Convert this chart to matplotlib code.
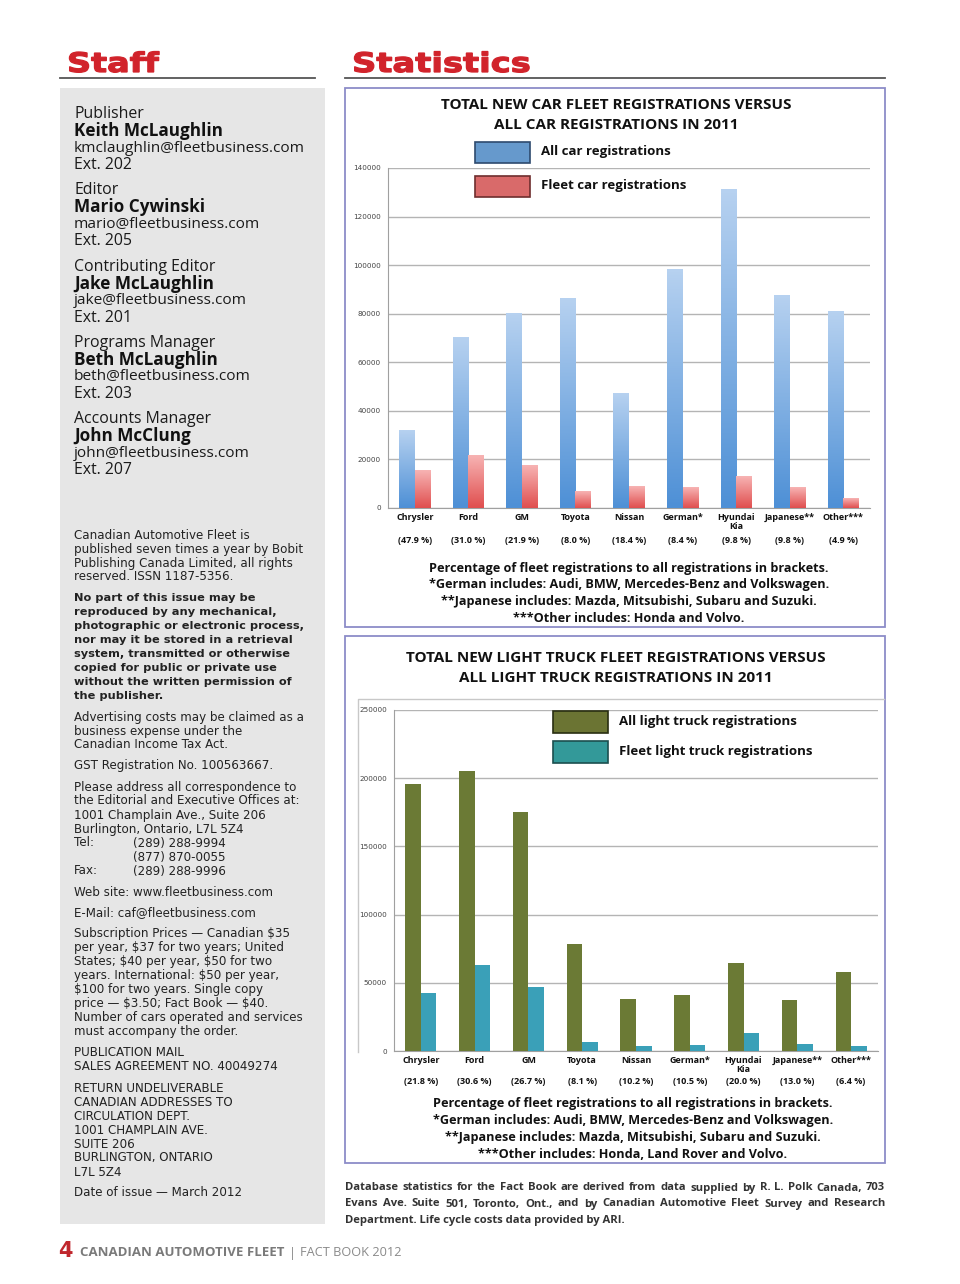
import matplotlib
matplotlib.use('Agg')
import matplotlib.pyplot as plt
import numpy as np
from matplotlib.patches import Rectangle, PathPatch
from matplotlib.lines import Line2D
from matplotlib.colors import LinearSegmentedColormap
from matplotlib.textpath import TextPath
from matplotlib.font_manager import FontProperties
from matplotlib.transforms import Affine2D

W, H = 960, 1284

makes = ['Chrysler', 'Ford', 'GM', 'Toyota', 'Nissan', 'German*', 'Hyundai\nKia', 'Japanese**', 'Other***']

car_all = [32000, 70300, 80200, 86400, 47200, 98400, 131000, 87400, 81100]
car_fleet = [15300, 21800, 17500, 6900, 8700, 8300, 12800, 8600, 4000]
car_pct = ['(47.9 %)', '(31.0 %)', '(21.9 %)', '(8.0 %)', '(18.4 %)', '(8.4 %)', '(9.8 %)', '(9.8 %)', '(4.9 %)']
car_ticks = [0, 20000, 40000, 60000, 80000, 100000, 120000, 140000]

truck_all = [195500, 205500, 175000, 78700, 37800, 41200, 64300, 37200, 57600]
truck_fleet = [42600, 62900, 46700, 6400, 3900, 4300, 12900, 4800, 3700]
truck_pct = ['(21.8 %)', '(30.6 %)', '(26.7 %)', '(8.1 %)', '(10.2 %)', '(10.5 %)', '(20.0 %)', '(13.0 %)', '(6.4 %)']
truck_ticks = [0, 50000, 100000, 150000, 200000, 250000]

car_title = ['TOTAL NEW CAR FLEET REGISTRATIONS VERSUS', 'ALL CAR REGISTRATIONS IN 2011']
truck_title = ['TOTAL NEW LIGHT TRUCK FLEET REGISTRATIONS VERSUS', 'ALL LIGHT TRUCK REGISTRATIONS IN 2011']
car_legend = ['All car registrations', 'Fleet car registrations']
truck_legend = ['All light truck registrations', 'Fleet light truck registrations']
car_notes = ['Percentage of fleet registrations to all registrations in brackets.',
             '*German includes: Audi, BMW, Mercedes-Benz and Volkswagen.',
             '**Japanese includes: Mazda, Mitsubishi, Subaru and Suzuki.',
             '***Other includes: Honda and Volvo.']
truck_notes = ['Percentage of fleet registrations to all registrations in brackets.',
               '*German includes: Audi, BMW, Mercedes-Benz and Volkswagen.',
               '**Japanese includes: Mazda, Mitsubishi, Subaru and Suzuki.',
               '***Other includes: Honda, Land Rover and Volvo.']

staff = [('Publisher', 'Keith McLaughlin', 'kmclaughlin@fleetbusiness.com', 'Ext. 202'),
         ('Editor', 'Mario Cywinski', 'mario@fleetbusiness.com', 'Ext. 205'),
         ('Contributing Editor', 'Jake McLaughlin', 'jake@fleetbusiness.com', 'Ext. 201'),
         ('Programs Manager', 'Beth McLaughlin', 'beth@fleetbusiness.com', 'Ext. 203'),
         ('Accounts Manager', 'John McClung', 'john@fleetbusiness.com', 'Ext. 207')]

info = [
    (False, ['Canadian Automotive Fleet is', 'published seven times a year by Bobit',
             'Publishing Canada Limited, all rights', 'reserved. ISSN 1187-5356.']),
    (True, ['No part of this issue may be', 'reproduced by any mechanical,',
            'photographic or electronic process,', 'nor may it be stored in a retrieval',
            'system, transmitted or otherwise', 'copied for public or private use',
            'without the written permission of', 'the publisher.']),
    (False, ['Advertising costs may be claimed as a', 'business expense under the',
             'Canadian Income Tax Act.']),
    (False, ['GST Registration No. 100563667.']),
    (False, ['Please address all correspondence to', 'the Editorial and Executive Offices at:',
             '1001 Champlain Ave., Suite 206', 'Burlington, Ontario, L7L 5Z4',
             'Tel:\t(289) 288-9994', '\t(877) 870-0055', 'Fax:\t(289) 288-9996']),
    (False, ['Web site: www.fleetbusiness.com']),
    (False, ['E-Mail: caf@fleetbusiness.com']),
    (False, ['Subscription Prices \u2014 Canadian $35', 'per year, $37 for two years; United',
             'States; $40 per year, $50 for two', 'years. International: $50 per year,',
             '$100 for two years. Single copy', 'price \u2014 $3.50; Fact Book \u2014 $40.',
             'Number of cars operated and services', 'must accompany the order.']),
    (False, ['PUBLICATION MAIL', 'SALES AGREEMENT NO. 40049274']),
    (False, ['RETURN UNDELIVERABLE', 'CANADIAN ADDRESSES TO', 'CIRCULATION DEPT.',
             '1001 CHAMPLAIN AVE.', 'SUITE 206', 'BURLINGTON, ONTARIO', 'L7L 5Z4']),
    (False, ['Date of issue \u2014 March 2012']),
]

source = ['Database statistics for the Fact Book are derived from data supplied by R. L. Polk Canada, 703',
          'Evans Ave. Suite 501, Toronto, Ont., and by Canadian Automotive Fleet Survey and Research',
          'Department. Life cycle costs data provided by ARI.']

CHART_FONT = 'Open Sans'
RED = '#d1232b'


def fx(x):
    return x / W


def fy(y):
    return 1 - y / H


def box(x0, y0, x1, y1):
    return [x0 / W, 1 - y1 / H, (x1 - x0) / W, (y1 - y0) / H]


def frame(fig, x0, y0, x1, y1, **kw):
    fig.add_artist(Rectangle((fx(x0), fy(y1)), (x1 - x0) / W, (y1 - y0) / H,
                             transform=fig.transFigure, **kw))


def hline(fig, x0, x1, y, color, lw):
    fig.add_artist(Line2D([fx(x0), fx(x1)], [fy(y), fy(y)], color=color, lw=lw,
                          transform=fig.transFigure))


def wide_heading(fig, s, x, y_base, size_px, stretch):
    # heavy extended display face, faked by stretching a bold outline
    tp = TextPath((0, 0), s, size=size_px, prop=FontProperties(family='DejaVu Sans', weight='bold'))
    tr = Affine2D().scale(stretch, 1).translate(x, H - y_base)
    fig.add_artist(PathPatch(tp, transform=tr, facecolor=RED, edgecolor=RED, lw=0.9))


def gradient_bars(ax, bars, top, bottom):
    cmap = LinearSegmentedColormap.from_list('g', [bottom, top])
    grad = np.linspace(0, 1, 64).reshape(-1, 1)
    for b in bars:
        x, w, h = b.get_x(), b.get_width(), b.get_height()
        ax.imshow(grad, extent=[x, x + w, 0, h], origin='lower', cmap=cmap,
                  aspect='auto', zorder=3, interpolation='bilinear')
        b.set_visible(False)


def bar_chart(fig, rect, all_v, fleet_v, pct, ticks, name_y, pct_y, colors, grad):
    ax = fig.add_axes(rect)
    x = np.arange(len(makes))
    w = 0.29
    b1 = ax.bar(x - w / 2, all_v, w, color=colors[0], zorder=3)
    b2 = ax.bar(x + w / 2, fleet_v, w, color=colors[1], zorder=3)
    if grad:
        gradient_bars(ax, b1, '#b6d1f0', '#4e90d6')
        gradient_bars(ax, b2, '#f7b3b3', '#e04f4f')
    ax.set_xlim(-0.5, len(makes) - 0.5)
    ax.set_ylim(0, ticks[-1])
    ax.set_yticks(ticks)
    ax.set_yticklabels([str(t) for t in ticks], fontsize=5.2, color='#444')
    ax.tick_params(axis='y', length=0, pad=5)
    ax.set_xticks([])
    ax.grid(axis='y', color='#b4b4b4', lw=1, zorder=0)
    for s in ['top', 'right']:
        ax.spines[s].set_visible(False)
    ax.spines['left'].set_color('#a0a0a0')
    ax.spines['bottom'].set_color('#a0a0a0')
    ax.set_facecolor('white')
    for i, m in enumerate(makes):
        ax.text(i, name_y, m, transform=ax.get_xaxis_transform(), ha='center', va='top',
                fontsize=6.5, fontweight='bold', family=CHART_FONT, color='#111', linespacing=1.05)
        ax.text(i, pct_y, pct[i], transform=ax.get_xaxis_transform(), ha='center', va='center',
                fontsize=6.5, fontweight='bold', family=CHART_FONT, color='#111')
    return ax


def justify(fig, renderer, line, x0, x1, y, **kw):
    words = line.split()
    texts = [fig.text(0, fy(y), wd, va='center', **kw) for wd in words]
    widths = [t.get_window_extent(renderer).width for t in texts]
    gap = (x1 - x0 - sum(widths)) / (len(words) - 1)
    x = x0
    for t, wd in zip(texts, widths):
        t.set_x(fx(x))
        x += wd + gap


def main():
    fig = plt.figure(figsize=(W / 100, H / 100), dpi=100)
    fig.patch.set_facecolor('white')

    # headings
    wide_heading(fig, 'Staff', 67, 72, 27, 1.24)
    wide_heading(fig, 'Statistics', 352, 72, 27, 1.25)
    hline(fig, 60, 315, 78, '#555555', 1.3)
    hline(fig, 345, 885, 78, '#555555', 1.3)

    # left panel
    frame(fig, 60, 88, 325, 1224, facecolor='#e6e6e6', edgecolor='none', zorder=0)
    for i, (role, name, mail, ext) in enumerate(staff):
        y = 114 + 76.3 * i
        fig.text(fx(74), fy(y), role, fontsize=11.4, family='Open Sans', color='#1a1a1a', va='center')
        fig.text(fx(74), fy(y + 17), name, fontsize=12.3, family='Open Sans', fontweight='bold',
                 color='#111', va='center')
        fig.text(fx(74), fy(y + 34), mail, fontsize=11.1, family='Open Sans', color='#1a1a1a', va='center')
        fig.text(fx(74), fy(y + 51), ext, fontsize=11.4, family='Open Sans', color='#1a1a1a', va='center')

    y = 535
    for bold, lines in info:
        for ln in lines:
            parts = ln.split('\t')
            kw = dict(fontsize=8.2 if bold else 8.6, family='DejaVu Sans', color='#222',
                      va='center', fontweight='bold' if bold else 'normal', parse_math=False)
            if parts[0]:
                fig.text(fx(74), fy(y), parts[0], **kw)
            if len(parts) > 1:
                fig.text(fx(133), fy(y), parts[1], **kw)
            y += 14
        y += 7

    # chart boxes
    frame(fig, 345, 88, 885, 627, facecolor='none', edgecolor='#8c8cc8', lw=1.3)
    frame(fig, 345, 636, 885, 1163, facecolor='none', edgecolor='#8c8cc8', lw=1.3)
    fig.add_artist(Line2D([fx(358), fx(358), fx(884)], [fy(1052), fy(699), fy(699)],
                          color='#c8c8c8', lw=1, transform=fig.transFigure))

    # car chart
    bar_chart(fig, box(388, 168, 870, 508), car_all, car_fleet, car_pct, car_ticks,
              -0.015, -0.095, ['#6aa0dc', '#e87070'], True)
    for k, ln in enumerate(car_title):
        fig.text(fx(616), fy(105 + 20 * k), ln, ha='center', va='center', fontsize=11,
                 fontweight='bold', family=CHART_FONT, color='#111')
    leg_cols = [('#6699cc', '#2e4a6e'), ('#d96a6a', '#6e2e2e')]
    for j, (lab, ly) in enumerate(zip(car_legend, [152, 186])):
        frame(fig, 475, ly - 10.5, 530, ly + 10.5, facecolor=leg_cols[j][0],
              edgecolor=leg_cols[j][1], lw=1.2)
        fig.text(fx(541), fy(ly), lab, va='center', fontsize=9.5, fontweight='bold',
                 family=CHART_FONT, color='#111')
    for k, note in enumerate(car_notes):
        fig.text(fx(629), fy(568 + 16.7 * k), note, ha='center', va='center', fontsize=9.1,
                 fontweight='bold', family=CHART_FONT, color='#111')

    # truck chart
    bar_chart(fig, box(394, 710, 878, 1051), truck_all, truck_fleet, truck_pct, truck_ticks,
              -0.015, -0.09, ['#6b7a35', '#3aa0b8'], False)
    for k, ln in enumerate(truck_title):
        fig.text(fx(616), fy(658 + 20 * k), ln, ha='center', va='center', fontsize=11,
                 fontweight='bold', family=CHART_FONT, color='#111')
    leg_cols = [('#6b7433', '#2a2f12'), ('#339999', '#1b4f4f')]
    for j, (lab, ly) in enumerate(zip(truck_legend, [722, 752])):
        frame(fig, 553, ly - 11, 608, ly + 11, facecolor=leg_cols[j][0],
              edgecolor=leg_cols[j][1], lw=1.2)
        fig.text(fx(619), fy(ly), lab, va='center', fontsize=9.5, fontweight='bold',
                 family=CHART_FONT, color='#111')
    for k, note in enumerate(truck_notes):
        fig.text(fx(633), fy(1104 + 16.7 * k), note, ha='center', va='center', fontsize=9.1,
                 fontweight='bold', family=CHART_FONT, color='#111')

    # source note, justified
    renderer = fig.canvas.get_renderer()
    kw = dict(fontsize=8.1, fontweight='bold', family=CHART_FONT, color='#333')
    justify(fig, renderer, source[0], 345, 885, 1188, **kw)
    justify(fig, renderer, source[1], 345, 885, 1204, **kw)
    fig.text(fx(345), fy(1220), source[2], va='center', **kw)

    # footer
    fig.text(fx(58), fy(1251), '4', fontsize=15, fontweight='bold', color='#c0272d',
             family='DejaVu Sans', va='center')
    fig.text(fx(80), fy(1253), 'CANADIAN AUTOMOTIVE FLEET', fontsize=9.5, fontweight='bold',
             color='#7a7a7a', family='Open Sans', va='center')
    fig.text(fx(289), fy(1253), '|', fontsize=9, color='#888', family='Open Sans', va='center')
    fig.text(fx(300), fy(1253), 'FACT BOOK 2012', fontsize=9.2, color='#8a8a8a',
             family='Open Sans', va='center')

    fig.savefig('out.png', dpi=100, facecolor='white')


if __name__ == "__main__":
    main()
